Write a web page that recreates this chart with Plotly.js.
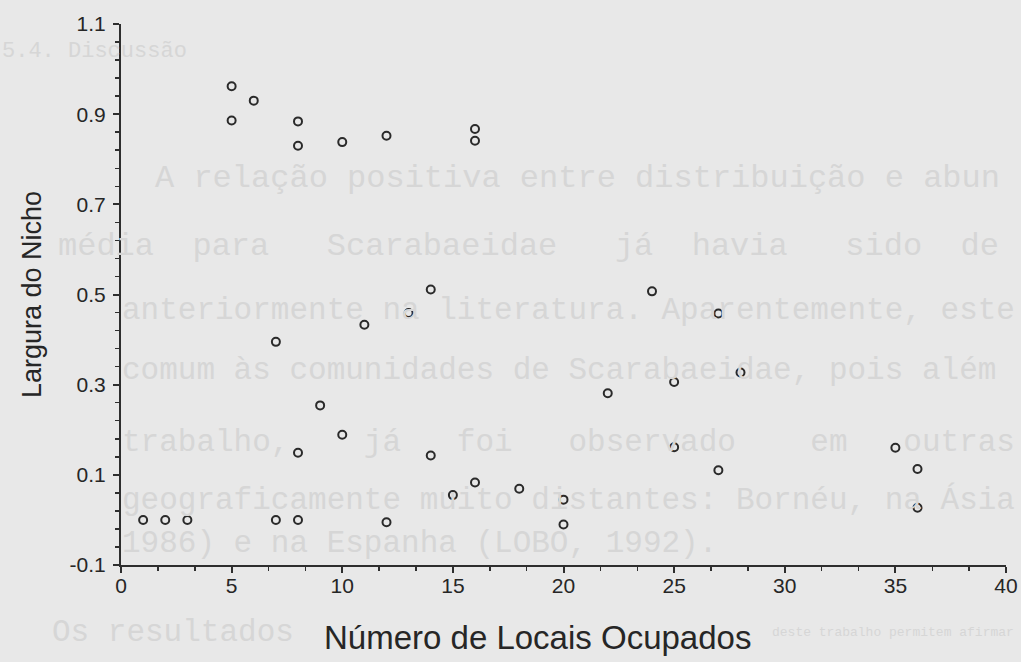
<!DOCTYPE html>
<html>
<head>
<meta charset="utf-8">
<script src="https://cdn.plot.ly/plotly-3.0.1.min.js"></script>
<style>
  html, body { margin: 0; padding: 0; background: #e8e8e8; }
  #chart { width: 1021px; height: 662px; }
</style>
</head>
<body>
<div id="chart"></div>
<script>
// Número de Locais Ocupados (x) vs Largura do Nicho (y)
const locais = [5, 6, 5, 8, 8, 10, 12, 16, 16,
                1, 2, 3, 7, 7, 8, 8, 9, 10, 11, 12, 13, 14, 14, 15, 16, 18,
                20, 20, 22, 24, 25, 25, 27, 27, 28, 35, 36, 36];
const largura = [0.962, 0.930, 0.886, 0.884, 0.830, 0.838, 0.852, 0.867, 0.841,
                 0.0, 0.0, 0.0, 0.395, 0.0, 0.0, 0.149, 0.254, 0.189, 0.433, -0.005, 0.459, 0.511, 0.143, 0.055, 0.083, 0.069,
                 0.045, -0.010, 0.281, 0.507, 0.306, 0.161, 0.458, 0.110, 0.327, 0.160, 0.113, 0.027];

const xTicks = [0, 5, 10, 15, 20, 25, 30, 35, 40];
const yTicks = [-0.1, 0.1, 0.3, 0.5, 0.7, 0.9, 1.1];
const yTickText = ["-0.1", "0.1", "0.3", "0.5", "0.7", "0.9", "1.1"];
const xTitle = "Número de Locais Ocupados";
const yTitle = "Largura do Nicho";

// faint text of the scanned page behind the chart
const pageLines = [
  "5.4. Discussão",
  "A relação positiva entre distribuição e abun",
  "média\u00a0\u00a0para\u00a0\u00a0\u00a0Scarabaeidae\u00a0\u00a0\u00a0já\u00a0\u00a0havia\u00a0\u00a0\u00a0sido\u00a0\u00a0de",
  "anteriormente na literatura. Aparentemente, este",
  "comum às comunidades de Scarabaeidae, pois além",
  "trabalho,\u00a0\u00a0\u00a0\u00a0já\u00a0\u00a0\u00a0foi\u00a0\u00a0\u00a0observado\u00a0\u00a0\u00a0\u00a0em\u00a0\u00a0\u00a0outras",
  "geograficamente muito distantes: Bornéu, na Ásia",
  "1986) e na Espanha (LOBO, 1992).",
  "Os resultados",
  "deste trabalho permitem afirmar"
];
const pageLineX = [0, 153, 56, 120, 120, 120, 120, 120, 50, 770];
const pageLineY = [52, 178, 246, 310, 370, 442, 500, 543, 632, 632];
const pageLineSize = [22, 32, 32, 31, 31, 31, 31, 31, 31, 13];

const px2x = p => (p - 121) / (1006 - 121);
const px2y = p => (565 - p) / (565 - 24);

const annotations = pageLines.map((t, i) => ({
  text: t, xref: 'paper', yref: 'paper',
  x: px2x(pageLineX[i]), y: px2y(pageLineY[i]),
  xanchor: 'left', yanchor: 'middle', showarrow: false,
  font: {family: 'Liberation Mono, Courier New, monospace', size: pageLineSize[i], color: '#d6d6d6'}
}));

// x-axis title (placed as in the reference, left of the plot centre)
annotations.push({
  text: xTitle, xref: 'paper', yref: 'paper',
  x: px2x(537), y: px2y(637), xanchor: 'center', yanchor: 'middle', showarrow: false,
  font: {family: 'Liberation Sans, Arial, sans-serif', size: 33, color: '#262626'}
});

const trace = {
  x: locais, y: largura, type: 'scatter', mode: 'markers',
  marker: {symbol: 'circle-open', size: 8, color: '#2a2a2a', line: {width: 2, color: '#2a2a2a'}},
  hoverinfo: 'x+y', showlegend: false
};

const axisFont = {family: 'Liberation Sans, Arial, sans-serif', size: 21, color: '#262626'};

const layout = {
  width: 1021, height: 662,
  paper_bgcolor: '#e8e8e8', plot_bgcolor: 'rgba(0,0,0,0)',
  margin: {l: 121, r: 15, t: 24, b: 97},
  showlegend: false,
  annotations: annotations,
  xaxis: {
    range: [0, 40], tickmode: 'array', tickvals: xTicks,
    ticks: 'outside', ticklen: 6, tickwidth: 2, tickcolor: '#2e2e2e',
    minor: {tick0: 0, dtick: 5 / 3, ticks: 'outside', ticklen: 4, tickwidth: 1.5, tickcolor: '#2e2e2e', showgrid: false},
    showline: true, linewidth: 2, linecolor: '#2e2e2e',
    showgrid: false, zeroline: false,
    tickfont: axisFont, ticklabelstandoff: -5
  },
  yaxis: {
    range: [-0.1, 1.1], tickmode: 'array', tickvals: yTicks, ticktext: yTickText,
    ticks: 'outside', ticklen: 6, tickwidth: 2, tickcolor: '#2e2e2e',
    minor: {tick0: -0.1, dtick: 0.04, ticks: 'outside', ticklen: 4, tickwidth: 1.5, tickcolor: '#2e2e2e', showgrid: false},
    showline: true, linewidth: 2, linecolor: '#2e2e2e',
    showgrid: false, zeroline: false,
    tickfont: axisFont, ticklabelstandoff: 3,
    title: {text: yTitle, font: {family: 'Liberation Sans, Arial, sans-serif', size: 27, color: '#262626'}, standoff: 20}
  }
};

Plotly.newPlot('chart', [trace], layout, {displayModeBar: false, staticPlot: true});
</script>
</body>
</html>
